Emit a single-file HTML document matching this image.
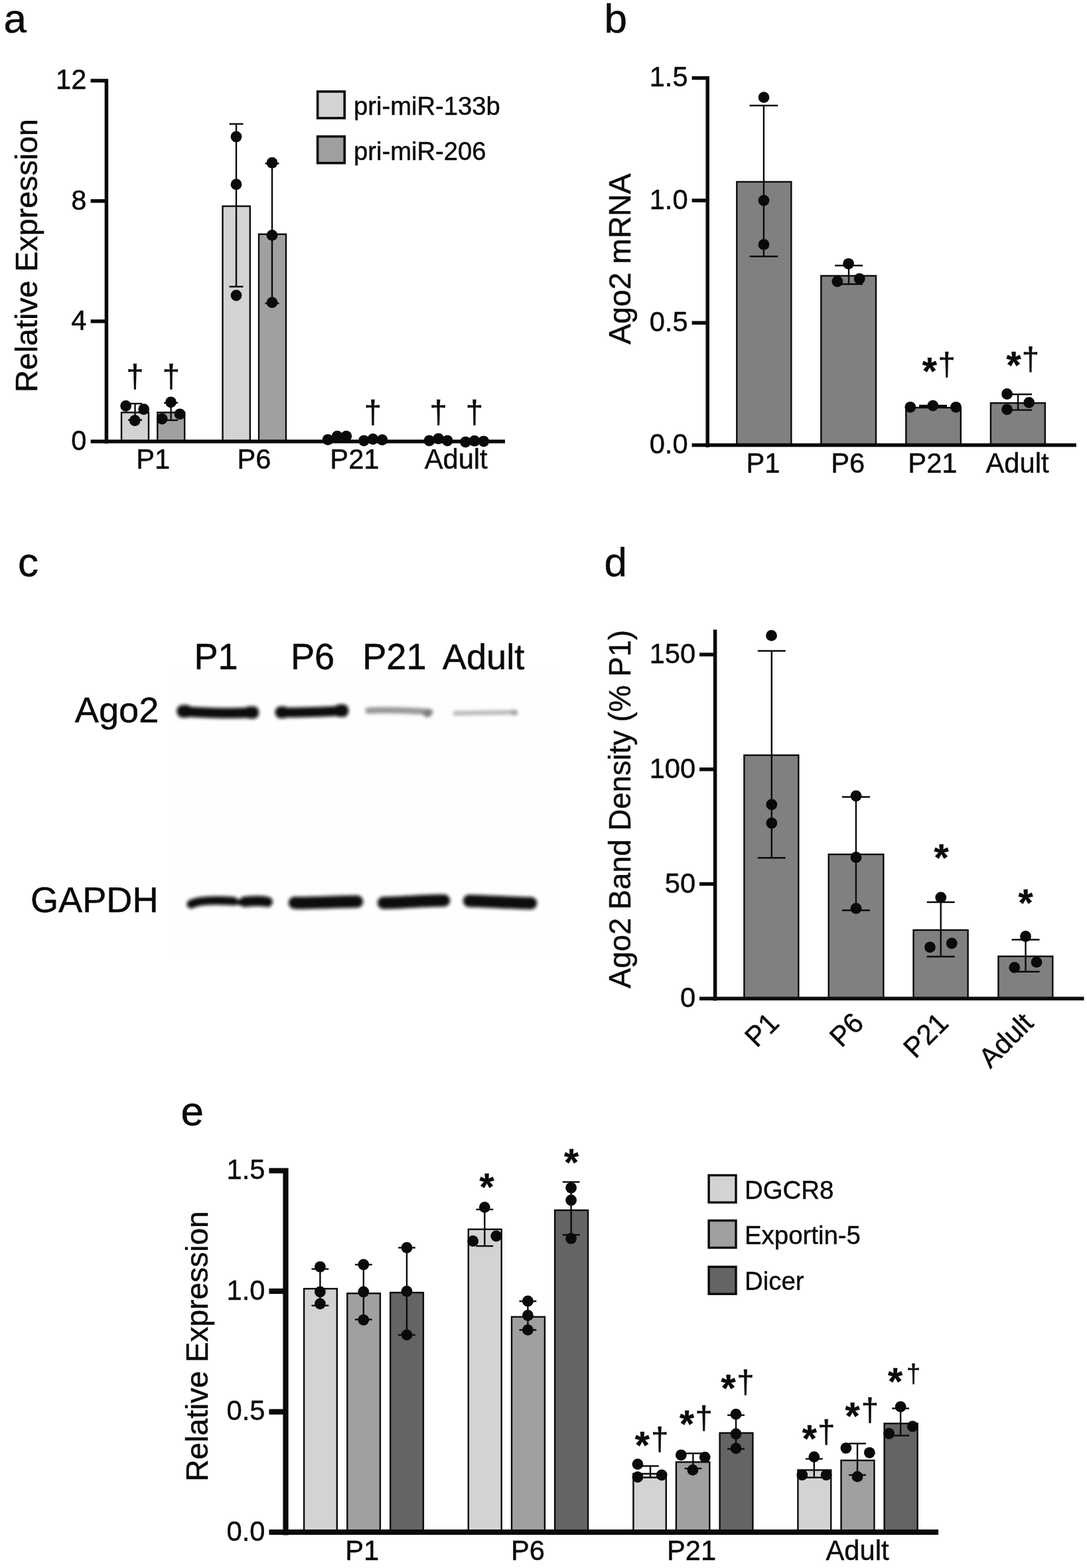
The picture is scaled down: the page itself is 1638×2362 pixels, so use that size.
<!DOCTYPE html>
<html lang="en">
<head>
<meta charset="utf-8">
<title>Figure</title>
<style>
html,body{margin:0;padding:0;background:#fff;}
body{width:1638px;height:2362px;overflow:hidden;}
svg{display:block;}
text{font-family:"Liberation Sans", sans-serif;fill:#0a0a0a;stroke:#0a0a0a;stroke-width:0.45px;}
</style>
</head>
<body>
<svg width="1638" height="2362" viewBox="0 0 1638 2362">
<defs>
<filter id="b3" x="-20%" y="-200%" width="140%" height="500%"><feGaussianBlur stdDeviation="2.6"/></filter>
<filter id="b2" x="-20%" y="-300%" width="140%" height="700%"><feGaussianBlur stdDeviation="2.4"/></filter>
</defs>
<rect width="1638" height="2362" fill="#ffffff"/>
<text x="5.50" y="49.20" font-size="62" text-anchor="start">a</text>
<text transform="translate(56.40 385.00) rotate(-90)" font-size="46.6" text-anchor="middle">Relative Expression</text>
<rect x="183.00" y="621.30" width="41.00" height="43.70" fill="#d3d3d3" stroke="#0a0a0a" stroke-width="2.4"/>
<rect x="237.30" y="621.30" width="40.90" height="43.70" fill="#a0a0a0" stroke="#0a0a0a" stroke-width="2.4"/>
<rect x="335.50" y="310.60" width="41.30" height="354.40" fill="#d3d3d3" stroke="#0a0a0a" stroke-width="2.4"/>
<rect x="390.00" y="352.80" width="41.00" height="312.20" fill="#a0a0a0" stroke="#0a0a0a" stroke-width="2.4"/>
<line x1="203.50" y1="608.00" x2="203.50" y2="632.60" stroke="#0a0a0a" stroke-width="2.4"/>
<line x1="193.00" y1="608.00" x2="214.00" y2="608.00" stroke="#0a0a0a" stroke-width="2.4"/>
<line x1="193.00" y1="632.60" x2="214.00" y2="632.60" stroke="#0a0a0a" stroke-width="2.4"/>
<line x1="257.60" y1="606.80" x2="257.60" y2="633.00" stroke="#0a0a0a" stroke-width="2.4"/>
<line x1="247.10" y1="606.80" x2="268.10" y2="606.80" stroke="#0a0a0a" stroke-width="2.4"/>
<line x1="247.10" y1="633.00" x2="268.10" y2="633.00" stroke="#0a0a0a" stroke-width="2.4"/>
<line x1="356.00" y1="186.70" x2="356.00" y2="431.80" stroke="#0a0a0a" stroke-width="2.4"/>
<line x1="345.50" y1="186.70" x2="366.50" y2="186.70" stroke="#0a0a0a" stroke-width="2.4"/>
<line x1="345.50" y1="431.80" x2="366.50" y2="431.80" stroke="#0a0a0a" stroke-width="2.4"/>
<line x1="410.00" y1="246.30" x2="410.00" y2="457.00" stroke="#0a0a0a" stroke-width="2.4"/>
<line x1="399.50" y1="246.30" x2="420.50" y2="246.30" stroke="#0a0a0a" stroke-width="2.4"/>
<line x1="399.50" y1="457.00" x2="420.50" y2="457.00" stroke="#0a0a0a" stroke-width="2.4"/>
<circle cx="189.60" cy="611.50" r="8.4" fill="#0a0a0a"/>
<circle cx="216.70" cy="616.50" r="8.4" fill="#0a0a0a"/>
<circle cx="203.20" cy="633.50" r="8.4" fill="#0a0a0a"/>
<circle cx="257.50" cy="605.80" r="8.4" fill="#0a0a0a"/>
<circle cx="271.00" cy="623.80" r="8.4" fill="#0a0a0a"/>
<circle cx="244.20" cy="631.00" r="8.4" fill="#0a0a0a"/>
<circle cx="356.00" cy="206.00" r="8.4" fill="#0a0a0a"/>
<circle cx="356.00" cy="277.70" r="8.4" fill="#0a0a0a"/>
<circle cx="356.00" cy="445.00" r="8.4" fill="#0a0a0a"/>
<circle cx="410.00" cy="245.20" r="8.4" fill="#0a0a0a"/>
<circle cx="410.00" cy="354.40" r="8.4" fill="#0a0a0a"/>
<circle cx="410.00" cy="455.60" r="8.4" fill="#0a0a0a"/>
<circle cx="494.10" cy="662.30" r="8.4" fill="#0a0a0a"/>
<circle cx="508.10" cy="657.20" r="8.4" fill="#0a0a0a"/>
<circle cx="521.80" cy="657.20" r="8.4" fill="#0a0a0a"/>
<circle cx="548.40" cy="663.80" r="8.4" fill="#0a0a0a"/>
<circle cx="562.00" cy="661.50" r="8.4" fill="#0a0a0a"/>
<circle cx="576.00" cy="662.60" r="8.4" fill="#0a0a0a"/>
<circle cx="646.90" cy="663.80" r="8.4" fill="#0a0a0a"/>
<circle cx="660.70" cy="660.80" r="8.4" fill="#0a0a0a"/>
<circle cx="674.20" cy="663.80" r="8.4" fill="#0a0a0a"/>
<circle cx="701.50" cy="665.80" r="8.4" fill="#0a0a0a"/>
<circle cx="715.00" cy="664.20" r="8.4" fill="#0a0a0a"/>
<circle cx="728.80" cy="664.80" r="8.4" fill="#0a0a0a"/>
<text x="190.15" y="583.29" font-size="47.3" text-anchor="start">†</text>
<text x="244.85" y="583.29" font-size="47.3" text-anchor="start">†</text>
<text x="548.85" y="636.79" font-size="47.3" text-anchor="start">†</text>
<text x="647.45" y="636.79" font-size="47.3" text-anchor="start">†</text>
<text x="701.85" y="636.79" font-size="47.3" text-anchor="start">†</text>
<text transform="translate(230.80 706.00) scale(1 1.03)" font-size="41.67" text-anchor="middle">P1</text>
<text transform="translate(383.00 706.00) scale(1 1.03)" font-size="41.67" text-anchor="middle">P6</text>
<text transform="translate(534.40 706.00) scale(1 1.03)" font-size="41.67" text-anchor="middle">P21</text>
<text x="687.20" y="706.00" font-size="41.67" text-anchor="middle">Adult</text>
<rect x="478.60" y="137.90" width="40.60" height="40.00" fill="#d3d3d3" stroke="#0a0a0a" stroke-width="3.6"/>
<rect x="478.60" y="205.60" width="40.60" height="40.00" fill="#a0a0a0" stroke="#0a0a0a" stroke-width="3.6"/>
<text x="533.00" y="172.60" font-size="38.2" text-anchor="start">pri-miR-133b</text>
<text x="533.00" y="240.60" font-size="38.2" text-anchor="start">pri-miR-206</text>
<text x="910.50" y="49.30" font-size="62" text-anchor="start">b</text>
<text transform="translate(950.40 390.00) rotate(-90)" font-size="46.3" text-anchor="middle">Ago2 mRNA</text>
<rect x="1110.30" y="273.90" width="82.00" height="396.70" fill="#808080" stroke="#0a0a0a" stroke-width="2.4"/>
<rect x="1237.30" y="415.50" width="82.70" height="255.10" fill="#808080" stroke="#0a0a0a" stroke-width="2.4"/>
<rect x="1365.30" y="614.10" width="82.50" height="56.50" fill="#808080" stroke="#0a0a0a" stroke-width="2.4"/>
<rect x="1492.90" y="607.10" width="81.90" height="63.50" fill="#808080" stroke="#0a0a0a" stroke-width="2.4"/>
<line x1="1150.90" y1="159.00" x2="1150.90" y2="386.20" stroke="#0a0a0a" stroke-width="2.4"/>
<line x1="1129.60" y1="159.00" x2="1172.20" y2="159.00" stroke="#0a0a0a" stroke-width="2.4"/>
<line x1="1129.60" y1="386.20" x2="1172.20" y2="386.20" stroke="#0a0a0a" stroke-width="2.4"/>
<line x1="1279.00" y1="400.00" x2="1279.00" y2="428.00" stroke="#0a0a0a" stroke-width="2.4"/>
<line x1="1258.00" y1="400.00" x2="1300.00" y2="400.00" stroke="#0a0a0a" stroke-width="2.4"/>
<line x1="1258.00" y1="428.00" x2="1300.00" y2="428.00" stroke="#0a0a0a" stroke-width="2.4"/>
<line x1="1406.00" y1="611.00" x2="1406.00" y2="612.50" stroke="#0a0a0a" stroke-width="2.4"/>
<line x1="1385.00" y1="611.00" x2="1427.00" y2="611.00" stroke="#0a0a0a" stroke-width="2.4"/>
<line x1="1385.00" y1="612.50" x2="1427.00" y2="612.50" stroke="#0a0a0a" stroke-width="2.4"/>
<line x1="1534.00" y1="594.00" x2="1534.00" y2="617.60" stroke="#0a0a0a" stroke-width="2.4"/>
<line x1="1513.00" y1="594.00" x2="1555.00" y2="594.00" stroke="#0a0a0a" stroke-width="2.4"/>
<line x1="1513.00" y1="617.60" x2="1555.00" y2="617.60" stroke="#0a0a0a" stroke-width="2.4"/>
<circle cx="1151.00" cy="146.60" r="8.4" fill="#0a0a0a"/>
<circle cx="1151.00" cy="302.00" r="8.4" fill="#0a0a0a"/>
<circle cx="1151.00" cy="368.40" r="8.4" fill="#0a0a0a"/>
<circle cx="1278.60" cy="397.30" r="8.4" fill="#0a0a0a"/>
<circle cx="1261.80" cy="424.00" r="8.4" fill="#0a0a0a"/>
<circle cx="1295.20" cy="420.00" r="8.4" fill="#0a0a0a"/>
<circle cx="1371.80" cy="613.30" r="8.4" fill="#0a0a0a"/>
<circle cx="1405.80" cy="611.10" r="8.4" fill="#0a0a0a"/>
<circle cx="1440.50" cy="613.30" r="8.4" fill="#0a0a0a"/>
<circle cx="1517.50" cy="593.50" r="8.4" fill="#0a0a0a"/>
<circle cx="1550.70" cy="606.40" r="8.4" fill="#0a0a0a"/>
<circle cx="1517.50" cy="616.80" r="8.4" fill="#0a0a0a"/>
<text x="1389.72" y="578.51" font-size="56.7" text-anchor="start" font-weight="bold">*</text>
<text x="1413.45" y="565.49" font-size="47.3" text-anchor="start">†</text>
<text x="1516.62" y="570.21" font-size="56.7" text-anchor="start" font-weight="bold">*</text>
<text x="1539.65" y="556.79" font-size="47.3" text-anchor="start">†</text>
<text transform="translate(1150.00 711.60) scale(1 1.03)" font-size="41.67" text-anchor="middle">P1</text>
<text transform="translate(1277.60 711.60) scale(1 1.03)" font-size="41.67" text-anchor="middle">P6</text>
<text transform="translate(1405.40 711.60) scale(1 1.03)" font-size="41.67" text-anchor="middle">P21</text>
<text x="1533.00" y="711.60" font-size="41.67" text-anchor="middle">Adult</text>
<text x="27.00" y="868.30" font-size="62" text-anchor="start">c</text>
<rect x="258" y="1000" width="582" height="442" fill="#fefefe"/>
<text transform="translate(325.50 1008.20) scale(1 1.03)" font-size="54.17" text-anchor="middle">P1</text>
<text transform="translate(471.00 1008.20) scale(1 1.03)" font-size="54.17" text-anchor="middle">P6</text>
<text transform="translate(594.40 1008.20) scale(1 1.03)" font-size="54.17" text-anchor="middle">P21</text>
<text x="728.50" y="1008.20" font-size="54.17" text-anchor="middle">Adult</text>
<text x="239.30" y="1087.60" font-size="54.17" text-anchor="end">Ago2</text>
<text x="238.60" y="1374.20" font-size="54.17" text-anchor="end">GAPDH</text>
<g filter="url(#b3)">
<path d="M274 1071.5 C300 1073.5 350 1075.5 382 1073" fill="none" stroke="#0b0b0b" stroke-width="15.5" stroke-linecap="round" stroke-linejoin="round"/>
<rect x="267" y="1062" width="22" height="19" rx="8" fill="#0b0b0b"/>
<rect x="368" y="1064" width="22" height="18.5" rx="8" fill="#0b0b0b"/>
<path d="M422 1073 C450 1074 490 1072 518 1070.5" fill="none" stroke="#0b0b0b" stroke-width="15" stroke-linecap="round" stroke-linejoin="round"/>
<rect x="415" y="1064" width="20" height="18" rx="8" fill="#0b0b0b"/>
<rect x="504" y="1061" width="21" height="19" rx="8" fill="#0b0b0b"/>
<path d="M288 1362 C300 1355.5 330 1356 352 1357.5" fill="none" stroke="#0b0b0b" stroke-width="13" stroke-linecap="round" stroke-linejoin="round"/>
<path d="M352 1358 C358 1360 362 1360 368 1358.5" fill="none" stroke="#0b0b0b" stroke-width="8" stroke-linecap="round" stroke-linejoin="round"/>
<path d="M368 1358.5 C380 1357 395 1357 403 1358.5" fill="none" stroke="#0b0b0b" stroke-width="15.5" stroke-linecap="round" stroke-linejoin="round"/>
<path d="M444 1360 C470 1361 510 1358 538 1358" fill="none" stroke="#0b0b0b" stroke-width="18.5" stroke-linecap="round" stroke-linejoin="round"/>
<path d="M578 1360 C600 1360 640 1356.5 669 1356.5" fill="none" stroke="#0b0b0b" stroke-width="18.5" stroke-linecap="round" stroke-linejoin="round"/>
<path d="M707 1357 C730 1357.5 770 1360 800 1360.5" fill="none" stroke="#0b0b0b" stroke-width="18.5" stroke-linecap="round" stroke-linejoin="round"/>
</g><g filter="url(#b2)">
<path d="M555 1070.5 C580 1069 620 1070.5 648 1072.5" fill="none" stroke="#969696" stroke-width="9.5" stroke-linecap="round" stroke-linejoin="round"/>
<ellipse cx="644" cy="1074.5" rx="6.5" ry="6" fill="#7c7c7c"/>
<path d="M686 1074.5 C710 1073.5 750 1073.5 777 1073" fill="none" stroke="#b4b4b4" stroke-width="6.5" stroke-linecap="round" stroke-linejoin="round"/>
<ellipse cx="775" cy="1073.5" rx="5" ry="4.5" fill="#a0a0a0"/>
</g>
<text x="910.40" y="868.00" font-size="62" text-anchor="start">d</text>
<text transform="translate(950.20 1218.80) rotate(-90)" font-size="45.4" text-anchor="middle">Ago2 Band Density (% P1)</text>
<text transform="translate(1048.20 998.90) scale(1 1.03)" font-size="41.67" text-anchor="end">150</text>
<text transform="translate(1048.20 1171.80) scale(1 1.03)" font-size="41.67" text-anchor="end">100</text>
<text transform="translate(1048.20 1344.50) scale(1 1.03)" font-size="41.67" text-anchor="end">50</text>
<text transform="translate(1048.20 1517.20) scale(1 1.03)" font-size="41.67" text-anchor="end">0</text>
<rect x="1121.40" y="1137.60" width="81.90" height="366.70" fill="#808080" stroke="#0a0a0a" stroke-width="2.4"/>
<rect x="1248.70" y="1287.00" width="82.60" height="217.30" fill="#808080" stroke="#0a0a0a" stroke-width="2.4"/>
<rect x="1376.50" y="1401.00" width="82.10" height="103.30" fill="#808080" stroke="#0a0a0a" stroke-width="2.4"/>
<rect x="1504.40" y="1440.60" width="81.90" height="63.70" fill="#808080" stroke="#0a0a0a" stroke-width="2.4"/>
<line x1="1162.80" y1="980.50" x2="1162.80" y2="1292.20" stroke="#0a0a0a" stroke-width="2.4"/>
<line x1="1141.80" y1="980.50" x2="1183.80" y2="980.50" stroke="#0a0a0a" stroke-width="2.4"/>
<line x1="1141.80" y1="1292.20" x2="1183.80" y2="1292.20" stroke="#0a0a0a" stroke-width="2.4"/>
<line x1="1289.90" y1="1200.50" x2="1289.90" y2="1371.20" stroke="#0a0a0a" stroke-width="2.4"/>
<line x1="1268.90" y1="1200.50" x2="1310.90" y2="1200.50" stroke="#0a0a0a" stroke-width="2.4"/>
<line x1="1268.90" y1="1371.20" x2="1310.90" y2="1371.20" stroke="#0a0a0a" stroke-width="2.4"/>
<line x1="1417.70" y1="1359.00" x2="1417.70" y2="1441.00" stroke="#0a0a0a" stroke-width="2.4"/>
<line x1="1396.70" y1="1359.00" x2="1438.70" y2="1359.00" stroke="#0a0a0a" stroke-width="2.4"/>
<line x1="1396.70" y1="1441.00" x2="1438.70" y2="1441.00" stroke="#0a0a0a" stroke-width="2.4"/>
<line x1="1545.50" y1="1415.50" x2="1545.50" y2="1463.70" stroke="#0a0a0a" stroke-width="2.4"/>
<line x1="1524.50" y1="1415.50" x2="1566.50" y2="1415.50" stroke="#0a0a0a" stroke-width="2.4"/>
<line x1="1524.50" y1="1463.70" x2="1566.50" y2="1463.70" stroke="#0a0a0a" stroke-width="2.4"/>
<circle cx="1162.50" cy="957.40" r="8.4" fill="#0a0a0a"/>
<circle cx="1162.80" cy="1212.00" r="8.4" fill="#0a0a0a"/>
<circle cx="1162.80" cy="1240.00" r="8.4" fill="#0a0a0a"/>
<circle cx="1290.00" cy="1199.00" r="8.4" fill="#0a0a0a"/>
<circle cx="1290.00" cy="1291.50" r="8.4" fill="#0a0a0a"/>
<circle cx="1290.00" cy="1368.40" r="8.4" fill="#0a0a0a"/>
<circle cx="1417.70" cy="1352.00" r="8.4" fill="#0a0a0a"/>
<circle cx="1401.40" cy="1426.80" r="8.4" fill="#0a0a0a"/>
<circle cx="1434.20" cy="1421.00" r="8.4" fill="#0a0a0a"/>
<circle cx="1545.50" cy="1410.50" r="8.4" fill="#0a0a0a"/>
<circle cx="1528.70" cy="1457.40" r="8.4" fill="#0a0a0a"/>
<circle cx="1562.00" cy="1449.40" r="8.4" fill="#0a0a0a"/>
<text x="1407.42" y="1311.71" font-size="56.7" text-anchor="start" font-weight="bold">*</text>
<text x="1534.42" y="1379.91" font-size="56.7" text-anchor="start" font-weight="bold">*</text>
<text transform="translate(1176.40 1543.50) rotate(-45) scale(1 1.03)" font-size="41.67" text-anchor="end">P1</text>
<text transform="translate(1304.00 1543.50) rotate(-45) scale(1 1.03)" font-size="41.67" text-anchor="end">P6</text>
<text transform="translate(1431.60 1543.50) rotate(-45) scale(1 1.03)" font-size="41.67" text-anchor="end">P21</text>
<text transform="translate(1559.40 1543.50) rotate(-45)" font-size="41.67" text-anchor="end">Adult</text>
<text x="272.40" y="1695.40" font-size="62" text-anchor="start">e</text>
<text transform="translate(312.70 2028.00) rotate(-90)" font-size="46.1" text-anchor="middle">Relative Expression</text>
<rect x="458.10" y="1941.30" width="49.70" height="366.70" fill="#d3d3d3" stroke="#0a0a0a" stroke-width="2.4"/>
<rect x="523.30" y="1948.30" width="49.60" height="359.70" fill="#a0a0a0" stroke="#0a0a0a" stroke-width="2.4"/>
<rect x="588.20" y="1947.10" width="49.70" height="360.90" fill="#646464" stroke="#0a0a0a" stroke-width="2.4"/>
<rect x="705.80" y="1851.80" width="49.90" height="456.20" fill="#d3d3d3" stroke="#0a0a0a" stroke-width="2.4"/>
<rect x="771.00" y="1983.70" width="49.90" height="324.30" fill="#a0a0a0" stroke="#0a0a0a" stroke-width="2.4"/>
<rect x="836.10" y="1823.00" width="50.00" height="485.00" fill="#646464" stroke="#0a0a0a" stroke-width="2.4"/>
<rect x="954.40" y="2220.00" width="49.40" height="88.00" fill="#d3d3d3" stroke="#0a0a0a" stroke-width="2.4"/>
<rect x="1018.90" y="2202.40" width="50.40" height="105.60" fill="#a0a0a0" stroke="#0a0a0a" stroke-width="2.4"/>
<rect x="1084.60" y="2158.60" width="49.80" height="149.40" fill="#646464" stroke="#0a0a0a" stroke-width="2.4"/>
<rect x="1202.40" y="2214.50" width="49.80" height="93.50" fill="#d3d3d3" stroke="#0a0a0a" stroke-width="2.4"/>
<rect x="1267.50" y="2199.90" width="49.90" height="108.10" fill="#a0a0a0" stroke="#0a0a0a" stroke-width="2.4"/>
<rect x="1332.60" y="2144.30" width="50.00" height="163.70" fill="#646464" stroke="#0a0a0a" stroke-width="2.4"/>
<line x1="482.40" y1="1911.60" x2="482.40" y2="1966.70" stroke="#0a0a0a" stroke-width="2.4"/>
<line x1="469.50" y1="1911.60" x2="495.30" y2="1911.60" stroke="#0a0a0a" stroke-width="2.4"/>
<line x1="469.50" y1="1966.70" x2="495.30" y2="1966.70" stroke="#0a0a0a" stroke-width="2.4"/>
<line x1="547.80" y1="1905.00" x2="547.80" y2="1987.80" stroke="#0a0a0a" stroke-width="2.4"/>
<line x1="534.90" y1="1905.00" x2="560.70" y2="1905.00" stroke="#0a0a0a" stroke-width="2.4"/>
<line x1="534.90" y1="1987.80" x2="560.70" y2="1987.80" stroke="#0a0a0a" stroke-width="2.4"/>
<line x1="613.00" y1="1879.50" x2="613.00" y2="2010.90" stroke="#0a0a0a" stroke-width="2.4"/>
<line x1="600.10" y1="1879.50" x2="625.90" y2="1879.50" stroke="#0a0a0a" stroke-width="2.4"/>
<line x1="600.10" y1="2010.90" x2="625.90" y2="2010.90" stroke="#0a0a0a" stroke-width="2.4"/>
<line x1="730.30" y1="1821.90" x2="730.30" y2="1877.00" stroke="#0a0a0a" stroke-width="2.4"/>
<line x1="717.40" y1="1821.90" x2="743.20" y2="1821.90" stroke="#0a0a0a" stroke-width="2.4"/>
<line x1="717.40" y1="1877.00" x2="743.20" y2="1877.00" stroke="#0a0a0a" stroke-width="2.4"/>
<line x1="795.40" y1="1960.20" x2="795.40" y2="2003.40" stroke="#0a0a0a" stroke-width="2.4"/>
<line x1="782.50" y1="1960.20" x2="808.30" y2="1960.20" stroke="#0a0a0a" stroke-width="2.4"/>
<line x1="782.50" y1="2003.40" x2="808.30" y2="2003.40" stroke="#0a0a0a" stroke-width="2.4"/>
<line x1="860.60" y1="1780.50" x2="860.60" y2="1860.20" stroke="#0a0a0a" stroke-width="2.4"/>
<line x1="847.70" y1="1780.50" x2="873.50" y2="1780.50" stroke="#0a0a0a" stroke-width="2.4"/>
<line x1="847.70" y1="1860.20" x2="873.50" y2="1860.20" stroke="#0a0a0a" stroke-width="2.4"/>
<line x1="980.00" y1="2208.40" x2="980.00" y2="2225.70" stroke="#0a0a0a" stroke-width="2.4"/>
<line x1="967.10" y1="2208.40" x2="992.90" y2="2208.40" stroke="#0a0a0a" stroke-width="2.4"/>
<line x1="967.10" y1="2225.70" x2="992.90" y2="2225.70" stroke="#0a0a0a" stroke-width="2.4"/>
<line x1="1044.40" y1="2189.30" x2="1044.40" y2="2212.10" stroke="#0a0a0a" stroke-width="2.4"/>
<line x1="1031.50" y1="2189.30" x2="1057.30" y2="2189.30" stroke="#0a0a0a" stroke-width="2.4"/>
<line x1="1031.50" y1="2212.10" x2="1057.30" y2="2212.10" stroke="#0a0a0a" stroke-width="2.4"/>
<line x1="1109.00" y1="2131.70" x2="1109.00" y2="2182.60" stroke="#0a0a0a" stroke-width="2.4"/>
<line x1="1096.10" y1="2131.70" x2="1121.90" y2="2131.70" stroke="#0a0a0a" stroke-width="2.4"/>
<line x1="1096.10" y1="2182.60" x2="1121.90" y2="2182.60" stroke="#0a0a0a" stroke-width="2.4"/>
<line x1="1226.80" y1="2197.60" x2="1226.80" y2="2225.70" stroke="#0a0a0a" stroke-width="2.4"/>
<line x1="1213.90" y1="2197.60" x2="1239.70" y2="2197.60" stroke="#0a0a0a" stroke-width="2.4"/>
<line x1="1213.90" y1="2225.70" x2="1239.70" y2="2225.70" stroke="#0a0a0a" stroke-width="2.4"/>
<line x1="1292.00" y1="2174.50" x2="1292.00" y2="2221.90" stroke="#0a0a0a" stroke-width="2.4"/>
<line x1="1279.10" y1="2174.50" x2="1304.90" y2="2174.50" stroke="#0a0a0a" stroke-width="2.4"/>
<line x1="1279.10" y1="2221.90" x2="1304.90" y2="2221.90" stroke="#0a0a0a" stroke-width="2.4"/>
<line x1="1357.10" y1="2121.60" x2="1357.10" y2="2162.50" stroke="#0a0a0a" stroke-width="2.4"/>
<line x1="1344.20" y1="2121.60" x2="1370.00" y2="2121.60" stroke="#0a0a0a" stroke-width="2.4"/>
<line x1="1344.20" y1="2162.50" x2="1370.00" y2="2162.50" stroke="#0a0a0a" stroke-width="2.4"/>
<circle cx="482.40" cy="1908.30" r="8.4" fill="#0a0a0a"/>
<circle cx="482.40" cy="1946.00" r="8.4" fill="#0a0a0a"/>
<circle cx="482.40" cy="1964.00" r="8.4" fill="#0a0a0a"/>
<circle cx="547.80" cy="1905.00" r="8.4" fill="#0a0a0a"/>
<circle cx="547.80" cy="1946.00" r="8.4" fill="#0a0a0a"/>
<circle cx="547.80" cy="1988.30" r="8.4" fill="#0a0a0a"/>
<circle cx="613.00" cy="1879.50" r="8.4" fill="#0a0a0a"/>
<circle cx="613.00" cy="1945.20" r="8.4" fill="#0a0a0a"/>
<circle cx="613.00" cy="2010.90" r="8.4" fill="#0a0a0a"/>
<circle cx="730.30" cy="1818.60" r="8.4" fill="#0a0a0a"/>
<circle cx="712.70" cy="1869.50" r="8.4" fill="#0a0a0a"/>
<circle cx="747.80" cy="1862.00" r="8.4" fill="#0a0a0a"/>
<circle cx="795.40" cy="1960.00" r="8.4" fill="#0a0a0a"/>
<circle cx="795.40" cy="1981.50" r="8.4" fill="#0a0a0a"/>
<circle cx="795.40" cy="2003.40" r="8.4" fill="#0a0a0a"/>
<circle cx="860.60" cy="1789.30" r="8.4" fill="#0a0a0a"/>
<circle cx="860.60" cy="1808.00" r="8.4" fill="#0a0a0a"/>
<circle cx="860.60" cy="1865.70" r="8.4" fill="#0a0a0a"/>
<circle cx="960.90" cy="2205.60" r="8.4" fill="#0a0a0a"/>
<circle cx="960.90" cy="2225.00" r="8.4" fill="#0a0a0a"/>
<circle cx="997.20" cy="2222.00" r="8.4" fill="#0a0a0a"/>
<circle cx="1026.30" cy="2191.80" r="8.4" fill="#0a0a0a"/>
<circle cx="1062.20" cy="2195.10" r="8.4" fill="#0a0a0a"/>
<circle cx="1043.90" cy="2214.40" r="8.4" fill="#0a0a0a"/>
<circle cx="1109.00" cy="2130.40" r="8.4" fill="#0a0a0a"/>
<circle cx="1109.00" cy="2160.00" r="8.4" fill="#0a0a0a"/>
<circle cx="1109.00" cy="2181.80" r="8.4" fill="#0a0a0a"/>
<circle cx="1226.80" cy="2194.60" r="8.4" fill="#0a0a0a"/>
<circle cx="1208.80" cy="2221.90" r="8.4" fill="#0a0a0a"/>
<circle cx="1245.10" cy="2221.90" r="8.4" fill="#0a0a0a"/>
<circle cx="1274.90" cy="2181.30" r="8.4" fill="#0a0a0a"/>
<circle cx="1310.30" cy="2188.30" r="8.4" fill="#0a0a0a"/>
<circle cx="1292.00" cy="2224.40" r="8.4" fill="#0a0a0a"/>
<circle cx="1357.10" cy="2119.10" r="8.4" fill="#0a0a0a"/>
<circle cx="1339.60" cy="2159.50" r="8.4" fill="#0a0a0a"/>
<circle cx="1375.20" cy="2148.70" r="8.4" fill="#0a0a0a"/>
<text x="722.42" y="1808.01" font-size="56.7" text-anchor="start" font-weight="bold">*</text>
<text x="849.92" y="1770.61" font-size="56.7" text-anchor="start" font-weight="bold">*</text>
<text x="956.82" y="2197.21" font-size="56.7" text-anchor="start" font-weight="bold">*</text>
<text x="981.05" y="2184.29" font-size="47.3" text-anchor="start">†</text>
<text x="1023.92" y="2165.31" font-size="56.7" text-anchor="start" font-weight="bold">*</text>
<text x="1047.55" y="2152.19" font-size="47.3" text-anchor="start">†</text>
<text x="1086.62" y="2110.81" font-size="56.7" text-anchor="start" font-weight="bold">*</text>
<text x="1110.15" y="2097.79" font-size="47.3" text-anchor="start">†</text>
<text x="1208.72" y="2186.51" font-size="56.7" text-anchor="start" font-weight="bold">*</text>
<text x="1231.95" y="2173.49" font-size="47.3" text-anchor="start">†</text>
<text x="1273.42" y="2152.91" font-size="56.7" text-anchor="start" font-weight="bold">*</text>
<text x="1297.65" y="2139.89" font-size="47.3" text-anchor="start">†</text>
<text x="1337.92" y="2101.41" font-size="56.7" text-anchor="start" font-weight="bold">*</text>
<text x="1365.67" y="2082.18" font-size="38.6" text-anchor="start">†</text>
<text transform="translate(545.80 2350.00) scale(1 1.03)" font-size="41.67" text-anchor="middle">P1</text>
<text transform="translate(795.40 2350.00) scale(1 1.03)" font-size="41.67" text-anchor="middle">P6</text>
<text transform="translate(1042.00 2350.00) scale(1 1.03)" font-size="41.67" text-anchor="middle">P21</text>
<text x="1292.00" y="2350.00" font-size="41.67" text-anchor="middle">Adult</text>
<rect x="1068.10" y="1770.40" width="40.90" height="40.90" fill="#d3d3d3" stroke="#0a0a0a" stroke-width="3.4"/>
<rect x="1068.10" y="1838.60" width="40.90" height="40.90" fill="#a0a0a0" stroke="#0a0a0a" stroke-width="3.4"/>
<rect x="1068.10" y="1908.30" width="40.90" height="40.90" fill="#646464" stroke="#0a0a0a" stroke-width="3.4"/>
<text transform="translate(1122.00 1805.60) scale(1 1.03)" font-size="38.4" text-anchor="start">DGCR8</text>
<text x="1122.00" y="1873.70" font-size="38.4" text-anchor="start">Exportin-5</text>
<text x="1122.00" y="1942.70" font-size="38.4" text-anchor="start">Dicer</text>
<path d="M136.60 121.50 H160.40 V668.25" fill="none" stroke="#0a0a0a" stroke-width="5.5" stroke-linejoin="miter"/>
<line x1="136.60" y1="302.80" x2="160.40" y2="302.80" stroke="#0a0a0a" stroke-width="5.5"/>
<line x1="136.60" y1="484.00" x2="160.40" y2="484.00" stroke="#0a0a0a" stroke-width="5.5"/>
<line x1="136.60" y1="665.00" x2="761.00" y2="665.00" stroke="#0a0a0a" stroke-width="5.5"/>
<text transform="translate(130.30 134.20) scale(1 1.03)" font-size="41.67" text-anchor="end">12</text>
<text transform="translate(130.30 315.50) scale(1 1.03)" font-size="41.67" text-anchor="end">8</text>
<text transform="translate(130.30 496.70) scale(1 1.03)" font-size="41.67" text-anchor="end">4</text>
<text transform="translate(130.30 677.70) scale(1 1.03)" font-size="41.67" text-anchor="end">0</text>
<path d="M1042.60 117.60 H1066.20 V673.85" fill="none" stroke="#0a0a0a" stroke-width="5.5" stroke-linejoin="miter"/>
<line x1="1042.60" y1="302.00" x2="1066.20" y2="302.00" stroke="#0a0a0a" stroke-width="5.5"/>
<line x1="1042.60" y1="486.30" x2="1066.20" y2="486.30" stroke="#0a0a0a" stroke-width="5.5"/>
<line x1="1042.60" y1="670.60" x2="1621.80" y2="670.60" stroke="#0a0a0a" stroke-width="5.5"/>
<text transform="translate(1036.60 130.30) scale(1 1.03)" font-size="41.67" text-anchor="end">1.5</text>
<text transform="translate(1036.60 314.70) scale(1 1.03)" font-size="41.67" text-anchor="end">1.0</text>
<text transform="translate(1036.60 499.00) scale(1 1.03)" font-size="41.67" text-anchor="end">0.5</text>
<text transform="translate(1036.60 683.30) scale(1 1.03)" font-size="41.67" text-anchor="end">0.0</text>
<line x1="1077.60" y1="948.60" x2="1077.60" y2="1507.55" stroke="#0a0a0a" stroke-width="5.5"/>
<line x1="1054.00" y1="986.00" x2="1077.60" y2="986.00" stroke="#0a0a0a" stroke-width="5.5"/>
<line x1="1054.00" y1="1158.90" x2="1077.60" y2="1158.90" stroke="#0a0a0a" stroke-width="5.5"/>
<line x1="1054.00" y1="1331.60" x2="1077.60" y2="1331.60" stroke="#0a0a0a" stroke-width="5.5"/>
<line x1="1054.00" y1="1504.30" x2="1633.50" y2="1504.30" stroke="#0a0a0a" stroke-width="5.5"/>
<path d="M405.40 1763.50 H430.50 V2312.60" fill="none" stroke="#0a0a0a" stroke-width="8.2" stroke-linejoin="miter"/>
<line x1="405.40" y1="1945.00" x2="430.50" y2="1945.00" stroke="#0a0a0a" stroke-width="8.2"/>
<line x1="405.40" y1="2126.70" x2="430.50" y2="2126.70" stroke="#0a0a0a" stroke-width="8.2"/>
<line x1="405.40" y1="2308.00" x2="1414.00" y2="2308.00" stroke="#0a0a0a" stroke-width="8.2"/>
<text transform="translate(399.50 1776.20) scale(1 1.03)" font-size="41.67" text-anchor="end">1.5</text>
<text transform="translate(399.50 1957.70) scale(1 1.03)" font-size="41.67" text-anchor="end">1.0</text>
<text transform="translate(399.50 2139.40) scale(1 1.03)" font-size="41.67" text-anchor="end">0.5</text>
<text transform="translate(399.50 2320.70) scale(1 1.03)" font-size="41.67" text-anchor="end">0.0</text>
</svg>
</body>
</html>
